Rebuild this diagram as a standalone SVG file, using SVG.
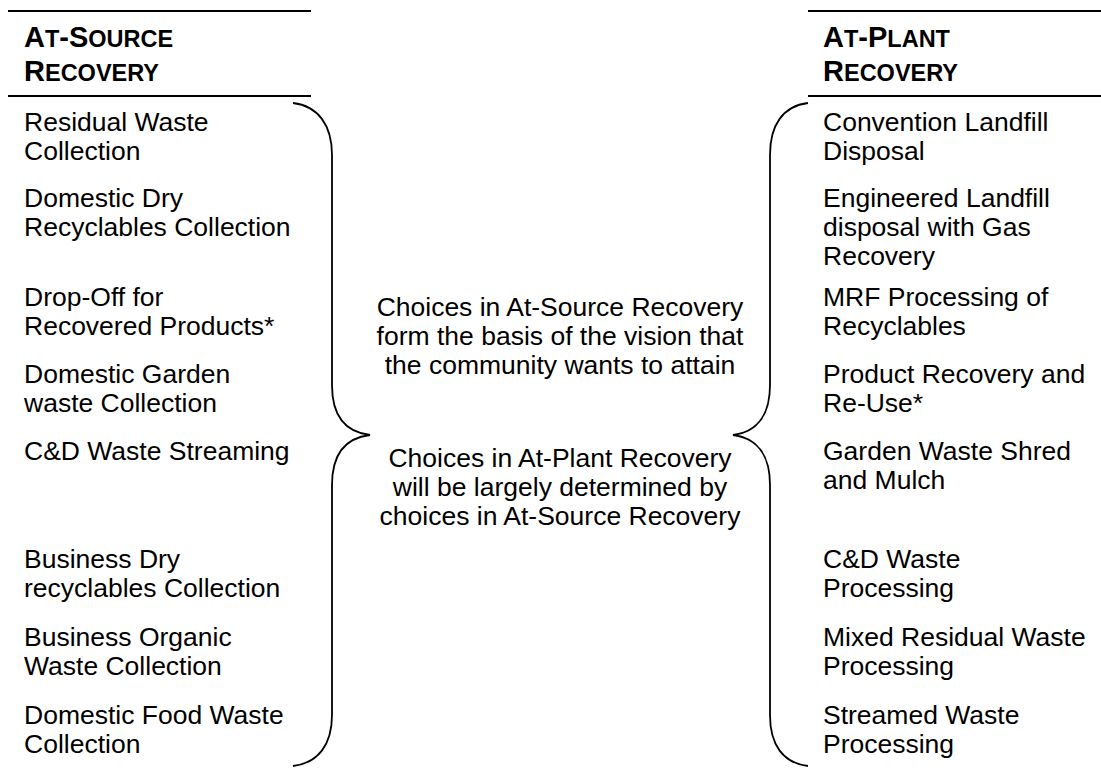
<svg xmlns="http://www.w3.org/2000/svg" width="1101" height="771" viewBox="0 0 1101 771">
  <style>
    text { font-family: "Liberation Sans", Arial, sans-serif; fill: #000; }
    .item { font-size: 26.5px; }
    .mid { font-size: 26.5px; text-anchor: middle; }
    .hd { font-weight: bold; font-size: 29px; }
    .sc { font-size: 23.5px; }
    .rule { stroke: #000; stroke-width: 2; }
    .brace { fill: none; stroke: #000; stroke-width: 1.8; }
  </style>
  <rect width="1101" height="771" fill="#fff"/>

  <!-- column headers -->
  <g id="hdr-source">
    <line class="rule" x1="8" y1="11" x2="311" y2="11"/>
    <text class="hd" x="24" y="47">A<tspan class="sc">T</tspan>-S<tspan class="sc">OURCE</tspan></text>
    <text class="hd" x="24" y="81">R<tspan class="sc">ECOVERY</tspan></text>
    <line class="rule" x1="8" y1="96" x2="311" y2="96"/>
  </g>
  <g id="hdr-plant">
    <line class="rule" x1="808" y1="11" x2="1101" y2="11"/>
    <text class="hd" x="823" y="47">A<tspan class="sc">T</tspan>-P<tspan class="sc">LANT</tspan></text>
    <text class="hd" x="823" y="81">R<tspan class="sc">ECOVERY</tspan></text>
    <line class="rule" x1="808" y1="96" x2="1101" y2="96"/>
  </g>

  <!-- at-source options -->
  <g id="src-residual"><text class="item" x="24" y="131">Residual Waste</text><text class="item" x="24" y="160">Collection</text></g>
  <g id="src-dry"><text class="item" x="24" y="207">Domestic Dry</text><text class="item" x="24" y="236">Recyclables Collection</text></g>
  <g id="src-dropoff"><text class="item" x="24" y="306">Drop-Off for</text><text class="item" x="24" y="335">Recovered Products*</text></g>
  <g id="src-garden"><text class="item" x="24" y="383">Domestic Garden</text><text class="item" x="24" y="412">waste Collection</text></g>
  <g id="src-cd"><text class="item" x="24" y="460">C&amp;D Waste Streaming</text></g>
  <g id="src-bizdry"><text class="item" x="24" y="568">Business Dry</text><text class="item" x="24" y="597">recyclables Collection</text></g>
  <g id="src-bizorg"><text class="item" x="24" y="646">Business Organic</text><text class="item" x="24" y="675">Waste Collection</text></g>
  <g id="src-food"><text class="item" x="24" y="724">Domestic Food Waste</text><text class="item" x="24" y="753">Collection</text></g>

  <!-- at-plant options -->
  <g id="plant-landfill"><text class="item" x="823" y="131">Convention Landfill</text><text class="item" x="823" y="160">Disposal</text></g>
  <g id="plant-engineered"><text class="item" x="823" y="207">Engineered Landfill</text><text class="item" x="823" y="236">disposal with Gas</text><text class="item" x="823" y="265">Recovery</text></g>
  <g id="plant-mrf"><text class="item" x="823" y="306">MRF Processing of</text><text class="item" x="823" y="335">Recyclables</text></g>
  <g id="plant-reuse"><text class="item" x="823" y="383">Product Recovery and</text><text class="item" x="823" y="412">Re-Use*</text></g>
  <g id="plant-mulch"><text class="item" x="823" y="460">Garden Waste Shred</text><text class="item" x="823" y="489">and Mulch</text></g>
  <g id="plant-cd"><text class="item" x="823" y="568">C&amp;D Waste</text><text class="item" x="823" y="597">Processing</text></g>
  <g id="plant-mixed"><text class="item" x="823" y="646">Mixed Residual Waste</text><text class="item" x="823" y="675">Processing</text></g>
  <g id="plant-streamed"><text class="item" x="823" y="724">Streamed Waste</text><text class="item" x="823" y="753">Processing</text></g>

  <!-- centre notes -->
  <g id="note-vision">
    <text class="mid" x="560" y="316">Choices in At-Source Recovery</text>
    <text class="mid" x="560" y="345">form the basis of the vision that</text>
    <text class="mid" x="560" y="374">the community wants to attain</text>
  </g>
  <g id="note-determined">
    <text class="mid" x="560" y="467">Choices in At-Plant Recovery</text>
    <text class="mid" x="560" y="496">will be largely determined by</text>
    <text class="mid" x="560" y="525">choices in At-Source Recovery</text>
  </g>

  <!-- curly braces -->
  <g id="connectors">
    <path class="brace" d="M293,103 C318,106 332,125 332,155 L332,385 C332,415 345,432 370,435 C345,438 332,455 332,485 L332,715 C332,745 318,763 293,766"/>
    <path class="brace" d="M808,103 C783,106 770,125 770,155 L770,385 C770,415 757,432 733,435 C757,438 770,455 770,485 L770,715 C770,745 783,763 808,766"/>
  </g>
</svg>
